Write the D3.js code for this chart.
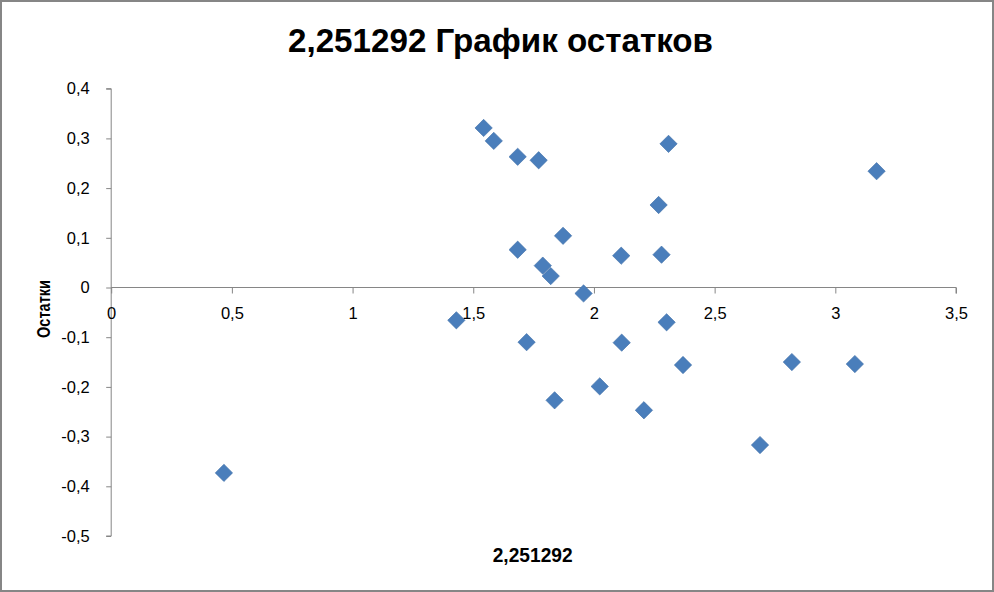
<!DOCTYPE html>
<html><head><meta charset="utf-8">
<script src="https://cdn.jsdelivr.net/npm/d3@7"></script>
<style>body{margin:0;background:#fff}svg{display:block}</style>
</head><body>
<svg id="c" width="994" height="592"></svg>
<script>
const title = "2,251292 График остатков";
const xTitle = "2,251292";
const yTitle = "Остатки";
const xValues = [1.543,1.585,1.684,1.771,2.309,2.268,1.872,1.684,2.113,2.280,1.788,1.821,1.957,1.430,2.301,1.721,2.115,2.369,2.024,1.837,2.207,3.171,2.820,3.081,2.688,0.467];
const residuals = [0.321,0.295,0.263,0.256,0.289,0.166,0.104,0.076,0.064,0.066,0.044,0.023,-0.012,-0.066,-0.070,-0.110,-0.111,-0.156,-0.199,-0.227,-0.247,0.234,-0.150,-0.154,-0.317,-0.373];
const xTicks = [0,0.5,1,1.5,2,2.5,3,3.5];
const yTicks = [0.4,0.3,0.2,0.1,0,-0.1,-0.2,-0.3,-0.4,-0.5];

const svg = d3.select("#c");
const fmt = v => String(v).replace(".", ",");
const axisColor = "#868686";
const font = "'Liberation Sans', Arial, sans-serif";

svg.append("rect").attr("x",1).attr("y",1).attr("width",992).attr("height",590)
  .attr("fill","#fff").attr("stroke","#868686").attr("stroke-width",2);

const x = d3.scaleLinear().domain([0,3.5]).range([111.2,956]);
const y = d3.scaleLinear().domain([-0.5,0.4]).range([536,88.7]);

svg.append("text").attr("x",500.5).attr("y",52).attr("text-anchor","middle")
  .attr("font-family",font).attr("font-weight","bold").attr("font-size",32.5)
  .attr("textLength",425).attr("lengthAdjust","spacingAndGlyphs")
  .text(title);

// y axis
const yAxis = d3.axisLeft(y).tickValues(yTicks).tickSize(5).tickFormat(fmt).tickPadding(16.5);
const gy = svg.append("g").attr("transform",`translate(${x(0)},0)`).call(yAxis);
gy.select(".domain").attr("stroke",axisColor).attr("d",`M-5,${y(0.4)}H0V${y(-0.5)}H-5`);
gy.selectAll(".tick line").attr("stroke",axisColor);
gy.selectAll(".tick text").attr("font-family",font).attr("font-size",16.5).attr("fill","#000");

// x axis at y=0
const xAxis = d3.axisBottom(x).tickValues(xTicks).tickSize(6).tickFormat(fmt).tickPadding(14);
const gx = svg.append("g").attr("transform",`translate(0,${y(0)})`).call(xAxis);
gx.select(".domain").attr("stroke",axisColor).attr("d",`M${x(0)},0H${x(3.5)}V6`);
gx.selectAll(".tick line").attr("stroke",axisColor);
gx.selectAll(".tick text").attr("font-family",font).attr("font-size",16.5).attr("fill","#000");

// axis titles
svg.append("text").attr("transform",`translate(50,309) rotate(-90)`)
  .attr("text-anchor","middle").attr("font-family",font).attr("font-weight","bold").attr("font-size",19)
  .attr("textLength",58).attr("lengthAdjust","spacingAndGlyphs")
  .text(yTitle);
svg.append("text").attr("x",532.7).attr("y",561.5).attr("text-anchor","middle")
  .attr("font-family",font).attr("font-weight","bold").attr("font-size",19.5)
  .attr("textLength",80).attr("lengthAdjust","spacingAndGlyphs")
  .text(xTitle);

// points
const sym = d3.symbol().type(d3.symbolSquare).size(150);
svg.append("g").selectAll("path").data(xValues.map((v,i)=>[v,residuals[i]])).join("path")
  .attr("d",sym)
  .attr("transform",d=>`translate(${x(d[0])},${y(d[1])}) rotate(45)`)
  .attr("fill","#4a7ebb").attr("stroke","#3f6fa8").attr("stroke-width",0.6);
</script>
</body></html>
